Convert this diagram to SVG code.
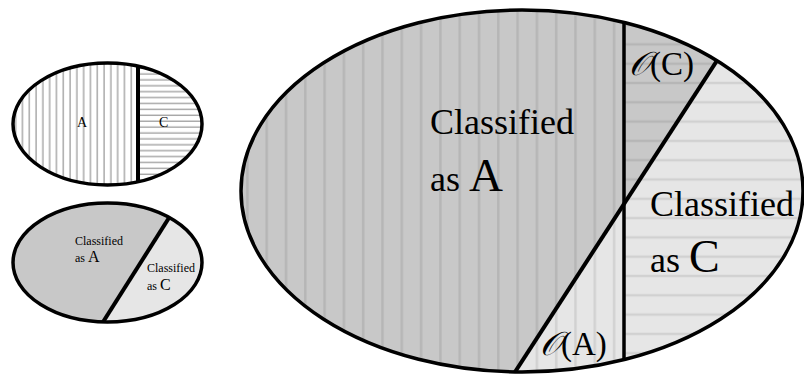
<svg xmlns="http://www.w3.org/2000/svg" width="804" height="376" viewBox="0 0 804 376">
<style>
text{font-family:"Liberation Serif","Times New Roman",serif;fill:#000}
.ol{fill:none;stroke:#000}
.dk{fill:#c8c8c8}
.lt{fill:#e6e6e6}
</style>
<defs>
<clipPath id="cBig"><ellipse cx="522" cy="191" rx="281" ry="181"/></clipPath>
<clipPath id="cS1"><ellipse cx="107.5" cy="124" rx="94.5" ry="61"/></clipPath>
<clipPath id="cS2"><ellipse cx="107.5" cy="262.5" rx="94.5" ry="59.5"/></clipPath>
<pattern id="pvBig" patternUnits="userSpaceOnUse" x="0" y="0" width="19.3" height="20">
<rect x="14.6" y="0" width="2.4" height="20" fill="#000" fill-opacity="0.09"/>
</pattern>
<pattern id="phBig" patternUnits="userSpaceOnUse" x="0" y="0" width="20" height="19.3">
<rect x="0" y="4.6" width="20" height="2.4" fill="#000" fill-opacity="0.09"/>
</pattern>
<pattern id="pvS" patternUnits="userSpaceOnUse" x="0" y="0" width="6.8" height="10">
<rect x="1.5" y="0" width="1.1" height="10" fill="#8a8a8a"/>
</pattern>
<pattern id="phS" patternUnits="userSpaceOnUse" x="0" y="0" width="10" height="5.9">
<rect x="0" y="2.6" width="10" height="1.1" fill="#8a8a8a"/>
</pattern>
</defs>

<g id="truth-split">
<g clip-path="url(#cS1)">
<rect x="10" y="60" width="130" height="130" fill="#fff"/>
<rect x="10" y="60" width="128" height="130" fill="url(#pvS)"/>
<rect x="138" y="60" width="70" height="130" fill="url(#phS)"/>
</g>
<line x1="138" y1="60" x2="138" y2="190" stroke="#000" stroke-width="4" clip-path="url(#cS1)"/>
<ellipse class="ol" cx="107.5" cy="124" rx="94.5" ry="61" stroke-width="3.5"/>
<text x="77" y="127" font-size="14">A</text>
<text x="159" y="127" font-size="14">C</text>
</g>

<g id="classifier-split">
<g clip-path="url(#cS2)">
<polygon class="dk" points="0,190 186.6,190 94.8,335 0,335"/>
<polygon class="lt" points="186.6,190 210,190 210,335 94.8,335"/>
<line x1="186.6" y1="190" x2="94.8" y2="335" stroke="#000" stroke-width="4"/>
</g>
<ellipse class="ol" cx="107.5" cy="262.5" rx="94.5" ry="59.5" stroke-width="3.5"/>
<text x="75" y="244.5" font-size="12">Classified</text>
<text x="75" y="262" font-size="12">as <tspan font-size="16">A</tspan></text>
<text x="147" y="272" font-size="12">Classified</text>
<text x="147" y="290" font-size="12">as <tspan font-size="16">C</tspan></text>
</g>

<g id="overlap">
<g clip-path="url(#cBig)">
<polygon class="dk" points="230,0 756.3,0 512.4,376 230,376"/>
<polygon class="lt" points="756.3,0 810,0 810,376 512.4,376"/>
<rect x="230" y="0" width="394" height="376" fill="url(#pvBig)"/>
<rect x="624" y="0" width="186" height="376" fill="url(#phBig)"/>
<line x1="624" y1="0" x2="624" y2="376" stroke="#000" stroke-width="3.5"/>
<line x1="756.3" y1="0" x2="512.4" y2="376" stroke="#000" stroke-width="4"/>
</g>
<ellipse class="ol" cx="522" cy="191" rx="281" ry="181" stroke-width="3.5"/>
<text x="430" y="134" font-size="36">Classified</text>
<text x="430" y="191" font-size="36">as <tspan font-size="47">A</tspan></text>
<text x="650" y="216" font-size="36">Classified</text>
<text x="650" y="272" font-size="36">as <tspan font-size="46">C</tspan></text>
<text x="629" y="75" font-size="33"><tspan font-style="italic">𝒪</tspan>(C)</text>
<text x="540" y="355" font-size="33"><tspan font-style="italic">𝒪</tspan>(A)</text>
</g>
</svg>
